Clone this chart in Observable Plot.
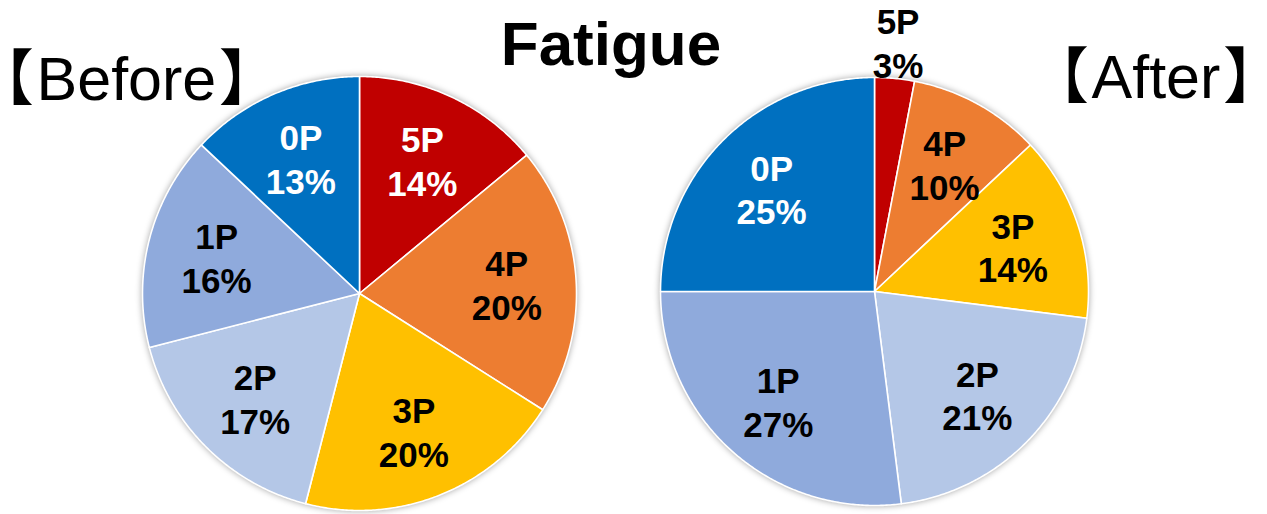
<!DOCTYPE html>
<html>
<head>
<meta charset="utf-8">
<script src="https://cdn.jsdelivr.net/npm/d3@7"></script>
<script src="https://cdn.jsdelivr.net/npm/@observablehq/plot@0.6"></script>
<style>
  html, body { margin: 0; padding: 0; background: #fff; }
  #wrap { position: relative; width: 1267px; height: 514px; overflow: hidden; font-family: "Liberation Sans", Arial, sans-serif; }
  #wrap svg g[aria-label="line"] { filter: drop-shadow(0px 0px 3px rgba(0,0,0,0.35)); }
  .t { position: absolute; white-space: nowrap; line-height: 1; color: #000; }
  .br { font-family: "Noto Sans CJK JP", sans-serif; font-feature-settings: "palt"; line-height: 1; }
  .wd { padding: 0 4px; }
</style>
</head>
<body>
<div id="wrap"></div>
<script>
// ---- data ----
const categories = ["5P", "4P", "3P", "2P", "1P", "0P"];
const beforeValues = [14, 20, 20, 17, 16, 13];
const afterValues = [3, 10, 14, 21, 27, 25];
const chartTitle = "Fatigue";
const beforeLabel = "Before";
const afterLabel = "After";

// ---- styles / layout ----
const sliceColors = ["#C00000", "#ED7D31", "#FFC000", "#B4C7E7", "#8FAADC", "#0070C0"];
const W = 1267, H = 514;
const pies = [
  {name: beforeLabel, values: beforeValues, cx: 359, cy: 293, r: 217},
  {name: afterLabel, values: afterValues, cx: 874, cy: 291, r: 214}
];

const wedgePts = [];
const labels = [];
for (const p of pies) {
  const total = d3.sum(p.values);
  let acc = 0;
  p.values.forEach((v, i) => {
    const a0 = acc / total * 2 * Math.PI;
    acc += v;
    const a1 = acc / total * 2 * Math.PI;
    const id = p.name + "-" + categories[i];
    wedgePts.push({id, cat: categories[i], x: p.cx, y: p.cy});
    const n = Math.max(2, Math.ceil((a1 - a0) / (Math.PI / 360)));
    for (let k = 0; k <= n; k++) {
      const a = a0 + (a1 - a0) * k / n;
      wedgePts.push({id, cat: categories[i], x: p.cx + p.r * Math.sin(a), y: p.cy - p.r * Math.cos(a)});
    }
    const share = v / total;
    const mid = (a0 + a1) / 2;
    const outside = share < 0.05;
    const f = outside ? 1.17 : 0.68;
    const light = outside || d3.lab(sliceColors[i]).l > 50;
    labels.push({
      x: p.cx + p.r * f * Math.sin(mid),
      y: p.cy - p.r * f * Math.cos(mid),
      text: categories[i] + "\n" + v + "%",
      white: !light
    });
  });
}

const textOpts = {x: "x", y: "y", text: "text", fontSize: 35, fontWeight: "bold", lineHeight: 1.25,
  fontFamily: "Liberation Sans, Arial, sans-serif"};

const chart = Plot.plot({
  width: W, height: H,
  margin: 0,
  x: {domain: [0, W], range: [0, W], axis: null},
  y: {domain: [0, H], range: [0, H], axis: null},
  color: {domain: categories, range: sliceColors},
  marks: [
    Plot.line(wedgePts, {x: "x", y: "y", z: "id", fill: "cat", stroke: "white", strokeWidth: 1.6, curve: "linear-closed"}),
    Plot.text(labels.filter(d => d.white), {...textOpts, fill: "white"}),
    Plot.text(labels.filter(d => !d.white), {...textOpts, fill: "black"})
  ]
});
const wrap = document.getElementById("wrap");
wrap.appendChild(chart);

function addTitle(word, left, top, size, weight, width) {
  const d = document.createElement("div");
  d.className = "t";
  d.style.left = left + "px";
  d.style.top = top + "px";
  d.style.fontSize = size + "px";
  if (weight) d.style.fontWeight = weight;
  if (width) { d.style.width = width + "px"; d.style.textAlign = "center"; d.textContent = word; }
  else {
    const b1 = document.createElement("span"); b1.className = "br"; b1.textContent = "【";
    const w = document.createElement("span"); w.className = "wd"; w.textContent = word;
    const b2 = document.createElement("span"); b2.className = "br"; b2.textContent = "】";
    d.append(b1, w, b2);
  }
  wrap.appendChild(d);
}
addTitle(chartTitle, 411, 12.5, 62, "bold", 400);
addTitle(beforeLabel, 2, 42.9, 61);
addTitle(afterLabel, 1057, 41.2, 61);
</script>
</body>
</html>
